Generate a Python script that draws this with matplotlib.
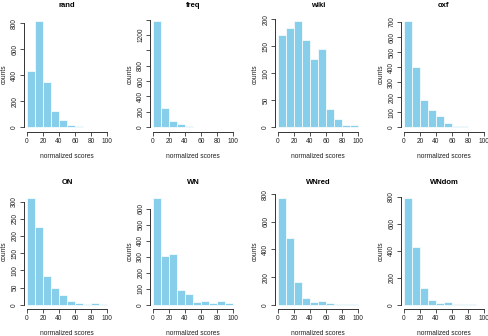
import matplotlib.pyplot as plt
import numpy as np

plt.rcParams['font.family'] = ['Liberation Sans', 'DejaVu Sans']

# bin edges shared by every histogram (normalized scores 0..100, width 10)
bin_left = np.arange(0, 100, 10)

names = ['rand', 'freq', 'wiki', 'oxf', 'ON', 'WN', 'WNred', 'WNdom']

rand_counts = [430, 820, 345, 125, 55, 20, 12, 3, 2, 1]
freq_counts = [1385, 250, 80, 45, 15, 8, 8, 4, 2, 1]
wiki_counts = [171, 184, 197, 162, 126, 144, 34, 16, 4, 4]
oxf_counts = [708, 401, 184, 115, 73, 29, 9, 7, 3, 1]
on_counts = [310, 227, 83, 50, 29, 12, 6, 2, 4, 2]
wn_counts = [667, 308, 317, 92, 65, 19, 25, 10, 23, 8]
wnred_counts = [771, 484, 164, 51, 19, 29, 10, 5, 2, 5]
wndom_counts = [790, 427, 124, 35, 15, 22, 8, 7, 2, 1]

all_counts = [rand_counts, freq_counts, wiki_counts, oxf_counts,
              on_counts, wn_counts, wnred_counts, wndom_counts]

y_steps = [200, 200, 50, 100, 50, 100, 200, 200]
y_tops = [800, 1400, 200, 700, 300, 600, 800, 800]
# labels R drops because they would overlap their neighbours
y_hidden = {'freq': [1000, 1400]}

W, H = 488, 336
fig = plt.figure(figsize=(W / 100, H / 100), dpi=100)

lefts = [23.8, 149.8, 274.8, 400.8]
bottoms = [131.5, 309.0]   # pixel position of region bottom (from top)
aw, ah = 86.4, 115.0

for i, (name, counts) in enumerate(zip(names, all_counts)):
    r, c = divmod(i, 4)
    ax = fig.add_axes([lefts[c] / W, (H - bottoms[r]) / H, aw / W, ah / H])
    ax.bar(bin_left, counts, width=10, align='edge', color='#87CEEB',
           edgecolor='white', linewidth=0.5)
    m = max(counts)
    ax.set_xlim(-4, 104)
    ax.set_ylim(-0.04 * m, 1.04 * m)

    for s in ['top', 'right']:
        ax.spines[s].set_visible(False)
    for s in ['left', 'bottom']:
        ax.spines[s].set_linewidth(0.7)
        ax.spines[s].set_color('#333333')
    ax.spines['bottom'].set_bounds(0, 100)
    ax.spines['left'].set_bounds(0, y_tops[i])

    ax.set_xticks(np.arange(0, 101, 20))
    yt = np.arange(0, y_tops[i] + 1, y_steps[i])
    hidden = y_hidden.get(name, [])
    ax.set_yticks(yt)
    ax.set_yticklabels(['' if v in hidden else str(v) for v in yt],
                       rotation=90, va='center')
    ax.tick_params(axis='both', labelsize=4.8, length=3, width=0.6,
                   color='#333333', labelcolor='#222222')
    ax.tick_params(axis='x', pad=1.5)
    ax.tick_params(axis='y', pad=1)

    ax.set_title(name, fontsize=5.5, fontweight='bold', pad=7)
    ax.set_xlabel('normalized scores', fontsize=4.8, color='#222222')
    ax.set_ylabel('counts', fontsize=4.8, color='#222222')
    ax.xaxis.set_label_coords(0.5, -0.185)
    ax.yaxis.set_label_coords(-0.185, 0.5)

fig.savefig('out.png', dpi=100)
